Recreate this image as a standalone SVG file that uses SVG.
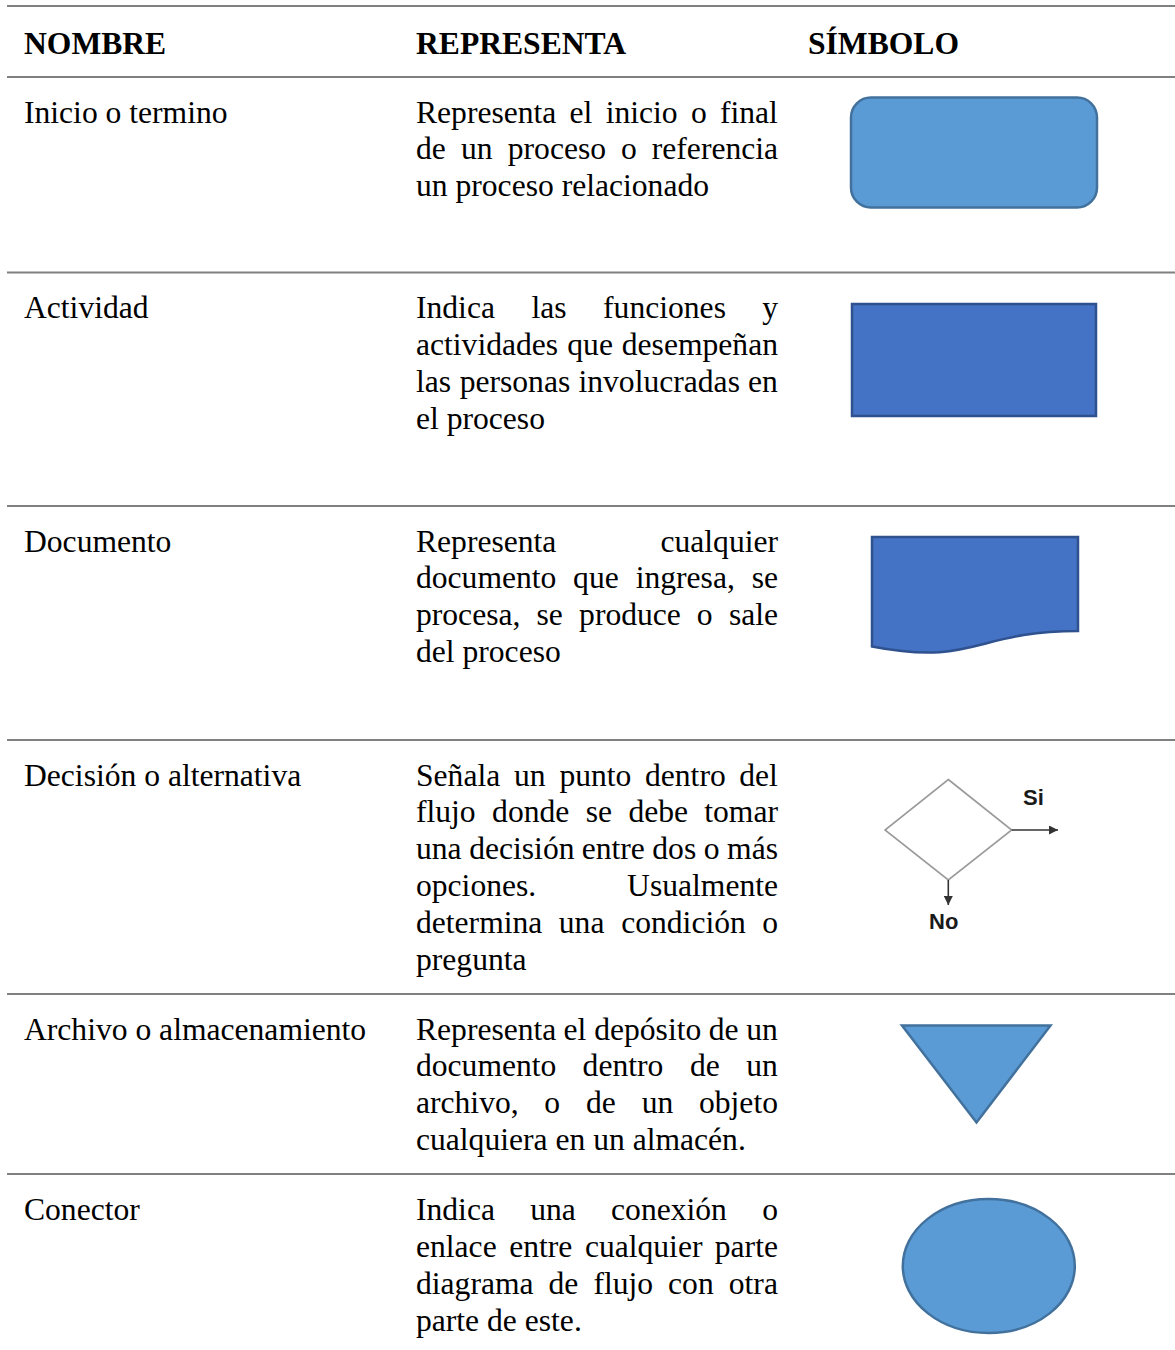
<svg xmlns="http://www.w3.org/2000/svg" width="1175" height="1350" viewBox="0 0 1175 1350">
<style>
.t{font-family:"Liberation Serif","Times New Roman",serif;font-size:31.6px;fill:#000}
.h{font-family:"Liberation Serif","Times New Roman",serif;font-size:31.6px;font-weight:bold;fill:#000}
.sep{stroke:#808080;stroke-width:2}
.lb{fill:#5B9BD5;stroke:#41719C;stroke-width:2.5}
.db{fill:#4472C4;stroke:#2F528F;stroke-width:2.5}
.dl{font-family:"Liberation Sans",Arial,sans-serif;font-size:22px;font-weight:bold;fill:#1a1a1a}
.ar{stroke:#333;stroke-width:1.6;fill:none}
</style>
<defs>
<marker id="ah" viewBox="0 0 10 10" refX="10" refY="5" markerWidth="10" markerHeight="9" markerUnits="userSpaceOnUse" orient="auto"><path d="M0,0 L10,5 L0,10 Z" fill="#333"/></marker>
</defs>
<rect width="1175" height="1350" fill="#fff"/>
<g id="grid">
<line class="sep" x1="7" y1="6" x2="1175" y2="6"/>
<line class="sep" x1="7" y1="77" x2="1175" y2="77"/>
<line class="sep" x1="7" y1="272.5" x2="1175" y2="272.5"/>
<line class="sep" x1="7" y1="506" x2="1175" y2="506"/>
<line class="sep" x1="7" y1="740" x2="1175" y2="740"/>
<line class="sep" x1="7" y1="994" x2="1175" y2="994"/>
<line class="sep" x1="7" y1="1174" x2="1175" y2="1174"/>
</g>
<g id="header">
<text class="h" x="24" y="54">NOMBRE</text>
<text class="h" x="416" y="54">REPRESENTA</text>
<text class="h" x="808" y="54">SÍMBOLO</text>
</g>
<g id="row-inicio">
<text class="t" x="24" y="122.5">Inicio o termino</text>
<text class="t" y="122.5"><tspan x="416">Representa</tspan><tspan x="569.5">el</tspan><tspan x="605.7">inicio</tspan><tspan x="691">o</tspan><tspan x="720">final</tspan></text>
<text class="t" y="159.4"><tspan x="416">de</tspan><tspan x="461">un</tspan><tspan x="507.8">proceso</tspan><tspan x="621.1">o</tspan><tspan x="651.8">referencia</tspan></text>
<text class="t" x="416" y="196.3">un proceso relacionado</text>
<rect class="lb" x="851" y="97.5" width="246" height="110" rx="20"/>
</g>
<g id="row-actividad">
<text class="t" x="24" y="318">Actividad</text>
<text class="t" y="318"><tspan x="416">Indica</tspan><tspan x="531.4">las</tspan><tspan x="603.1">funciones</tspan><tspan x="762.2">y</tspan></text>
<text class="t" y="354.9"><tspan x="416">actividades</tspan><tspan x="567.3">que</tspan><tspan x="621.8">desempeñan</tspan></text>
<text class="t" y="391.8"><tspan x="416">las</tspan><tspan x="459.7">personas</tspan><tspan x="578.5">involucradas</tspan><tspan x="748.1">en</tspan></text>
<text class="t" x="416" y="428.7">el proceso</text>
<rect class="db" x="852" y="304" width="244" height="112"/>
</g>
<g id="row-documento">
<text class="t" x="24" y="551.5">Documento</text>
<text class="t" y="551.5"><tspan x="416">Representa</tspan><tspan x="660.5">cualquier</tspan></text>
<text class="t" y="588.4"><tspan x="416">documento</tspan><tspan x="573.1">que</tspan><tspan x="635.7">ingresa,</tspan><tspan x="751.7">se</tspan></text>
<text class="t" y="625.3"><tspan x="416">procesa,</tspan><tspan x="536.5">se</tspan><tspan x="579.1">produce</tspan><tspan x="696.8">o</tspan><tspan x="728.9">sale</tspan></text>
<text class="t" x="416" y="662.2">del proceso</text>
<path class="db" d="M872,537 H1078 V631 C975,631 975,666.5 872,646.4 Z"/>
</g>
<g id="row-decision">
<text class="t" x="24" y="785.5">Decisión o alternativa</text>
<text class="t" y="785.5"><tspan x="416">Señala</tspan><tspan x="513.9">un</tspan><tspan x="559.4">punto</tspan><tspan x="645">dentro</tspan><tspan x="739.3">del</tspan></text>
<text class="t" y="822.4"><tspan x="416">flujo</tspan><tspan x="492.1">donde</tspan><tspan x="585.7">se</tspan><tspan x="628.5">debe</tspan><tspan x="704.3">tomar</tspan></text>
<text class="t" y="859.3"><tspan x="416">una</tspan><tspan x="469.2">decisión</tspan><tspan x="581.7">entre</tspan><tspan x="652.3">dos</tspan><tspan x="703.7">o</tspan><tspan x="727.1">más</tspan></text>
<text class="t" y="896.2"><tspan x="416">opciones.</tspan><tspan x="627.1">Usualmente</tspan></text>
<text class="t" y="933.1"><tspan x="416">determina</tspan><tspan x="558.8">una</tspan><tspan x="621.2">condición</tspan><tspan x="762.2">o</tspan></text>
<text class="t" x="416" y="970">pregunta</text>
<polygon points="948.3,779.5 1011.7,830 948.3,880 885,830" fill="#fff" stroke="#9a9a9a" stroke-width="1.6"/>
<text class="dl" x="1023" y="805">Si</text>
<text class="dl" x="929" y="929">No</text>
</g>
<g id="row-archivo">
<text class="t" x="24" y="1039.5">Archivo o almacenamiento</text>
<text class="t" y="1039.5"><tspan x="416">Representa</tspan><tspan x="563.6">el</tspan><tspan x="594.2">depósito</tspan><tspan x="708.8">de</tspan><tspan x="746.3">un</tspan></text>
<text class="t" y="1076.4"><tspan x="416">documento</tspan><tspan x="582.6">dentro</tspan><tspan x="689.9">de</tspan><tspan x="746.3">un</tspan></text>
<text class="t" y="1113.3"><tspan x="416">archivo,</tspan><tspan x="544.3">o</tspan><tspan x="586">de</tspan><tspan x="641.7">un</tspan><tspan x="699">objeto</tspan></text>
<text class="t" x="416" y="1150.2">cualquiera en un almacén.</text>
<polygon class="lb" points="902,1025.5 1050.5,1025.5 976.5,1122.5"/>
</g>
<g id="row-conector">
<text class="t" x="24" y="1220">Conector</text>
<text class="t" y="1220"><tspan x="416">Indica</tspan><tspan x="530.2">una</tspan><tspan x="611.1">conexión</tspan><tspan x="762.2">o</tspan></text>
<text class="t" y="1256.9"><tspan x="416">enlace</tspan><tspan x="509.2">entre</tspan><tspan x="584.9">cualquier</tspan><tspan x="714.8">parte</tspan></text>
<text class="t" y="1293.8"><tspan x="416">diagrama</tspan><tspan x="548.4">de</tspan><tspan x="593.4">flujo</tspan><tspan x="668.1">con</tspan><tspan x="728.8">otra</tspan></text>
<text class="t" x="416" y="1330.7">parte de este.</text>
<ellipse class="lb" cx="988.8" cy="1266" rx="86" ry="67"/>
</g>
<g id="connectors">
<line class="ar" x1="1011.7" y1="830" x2="1058" y2="830" marker-end="url(#ah)"/>
<line class="ar" x1="948.3" y1="880" x2="948.3" y2="905" marker-end="url(#ah)"/>
</g>
</svg>
